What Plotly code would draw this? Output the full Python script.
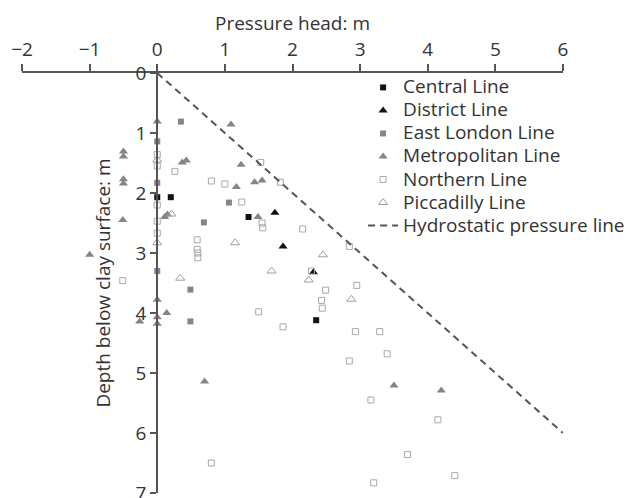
import plotly.graph_objects as go

# Pore pressure head vs depth below the clay surface, by Underground line
central_x = [0.0, 0.2, 1.35, 2.35]
central_d = [2.07, 2.07, 2.4, 4.12]

district_x = [1.74, 1.86, 2.31]
district_d = [2.33, 2.89, 3.32]

eastlondon_x = [0.35, 0.0, 0.0, 1.06, 0.69, 0.0, 0.49, 0.49]
eastlondon_d = [0.81, 1.14, 1.83, 2.16, 2.49, 3.3, 3.61, 4.14]

metro_x = [0.0, 1.09, -0.5, -0.5, 0.37, 0.43, 1.24, -0.5, -0.5, 1.17, 1.44, 1.55,
           1.49, 0.11, 0.15, -0.51, -1.0, 0.0, 0.14, -0.26, 0.0, 0.0, 0.7, 3.5, 4.2]
metro_d = [0.81, 0.86, 1.31, 1.39, 1.49, 1.46, 1.53, 1.77, 1.84, 1.9, 1.82, 1.79,
           2.4, 2.4, 2.36, 2.45, 3.03, 3.78, 4.0, 4.14, 4.07, 4.18, 5.14, 5.21, 5.29]

northern_x = [0.0, 0.0, 0.26, 0.8, 1.0, 1.53, 1.82, 1.25, 0.0, 0.0, 0.0, 1.55, 1.56,
              2.15, 0.59, 0.59, 0.6, 0.6, 2.84, -0.51, 2.28, 2.95, 2.49, 2.43, 2.44,
              1.5, 1.86, 2.93, 3.29, 3.4, 2.84, 3.16, 4.15, 3.7, 4.4, 3.2, 0.8]
northern_d = [1.36, 1.55, 1.64, 1.8, 1.85, 1.49, 1.82, 2.15, 2.2, 2.47, 2.67, 2.5, 2.58,
              2.6, 2.78, 2.94, 3.0, 3.08, 2.89, 3.46, 3.3, 3.54, 3.62, 3.79, 3.92,
              3.98, 4.23, 4.31, 4.31, 4.68, 4.8, 5.45, 5.78, 6.36, 6.71, 6.83, 6.5]

piccadilly_x = [0.0, 0.21, 0.0, 1.15, 1.69, 2.45, 2.24, 2.87, 0.34]
piccadilly_d = [1.45, 2.35, 2.83, 2.83, 3.3, 3.03, 3.45, 3.77, 3.42]

# Hydrostatic line: pressure head equals depth
hydro_x = [0, 6]
hydro_d = [0, 6]

x_ticks = [-2, -1, 0, 1, 2, 3, 4, 5, 6]
y_ticks = [0, 1, 2, 3, 4, 5, 6, 7]

FONT = "Open Sans"
TXT = "#333333"
AX = "#555555"


def legend_label(text):
    # larger glyphs than the legend's nominal size keep the rows compact
    return f'<span style="font-size:19px">{text}</span>'


fig = go.Figure()

series = [
    ("Central Line", central_x, central_d, "square", 6, "#111111", None),
    ("District Line", district_x, district_d, "triangle-up", 8, "#111111", None),
    ("East London Line", eastlondon_x, eastlondon_d, "square", 6, "#858585", None),
    ("Metropolitan Line", metro_x, metro_d, "triangle-up", 8, "#858585", None),
    ("Northern Line", northern_x, northern_d, "square-open", 6, "#a8a8a8", 1),
    ("Piccadilly Line", piccadilly_x, piccadilly_d, "triangle-up-open", 8, "#a0a0a0", 1),
]
for name, xs, ds, sym, size, col, lw in series:
    marker = dict(symbol=sym, size=size, color=col)
    if lw:
        marker["line"] = dict(color=col, width=lw)
    else:
        marker["line"] = dict(width=0)
    fig.add_trace(go.Scatter(x=xs, y=ds, mode="markers",
                             name=legend_label(name), marker=marker))

fig.add_trace(go.Scatter(
    x=hydro_x, y=hydro_d, mode="lines",
    name=legend_label("Hydrostatic pressure line"),
    line=dict(color=AX, width=2, dash="7px,5px"),
))

fig.update_layout(
    width=626, height=498,
    template="none",
    paper_bgcolor="white", plot_bgcolor="white",
    margin=dict(l=22, r=63, t=73, b=5, pad=0, autoexpand=False),
    font=dict(family=FONT, size=19, color=TXT),
    showlegend=True,
    legend=dict(
        x=0.6305, y=1.005, xanchor="left", yanchor="top",
        bgcolor="rgba(0,0,0,0)", borderwidth=0,
        font=dict(family=FONT, size=15.4, color=TXT),
        tracegroupgap=0, itemwidth=30,
    ),
    xaxis=dict(
        range=[-2, 6], side="top", anchor="y",
        tickmode="array", tickvals=x_ticks,
        ticks="outside", ticklen=7, tickwidth=2, tickcolor=AX,
        showline=True, linecolor=AX, linewidth=2,
        showgrid=False, zeroline=False, automargin=False,
        tickfont=dict(family=FONT, size=19, color=TXT),
        title=dict(text="Pressure head: m", standoff=1,
                   font=dict(family=FONT, size=19, color=TXT)),
    ),
    yaxis=dict(
        range=[7, 0], anchor="free", position=0.25,
        tickmode="array", tickvals=y_ticks,
        ticks="outside", ticklen=6, tickwidth=2, tickcolor=AX,
        showline=True, linecolor=AX, linewidth=2,
        showgrid=False, zeroline=False, automargin=False,
        ticklabeloverflow="allow",
        tickfont=dict(family=FONT, size=19, color=TXT),
        title=dict(text="Depth below clay surface: m", standoff=19,
                   font=dict(family=FONT, size=19, color=TXT)),
    ),
)

fig.write_html("out.html")
